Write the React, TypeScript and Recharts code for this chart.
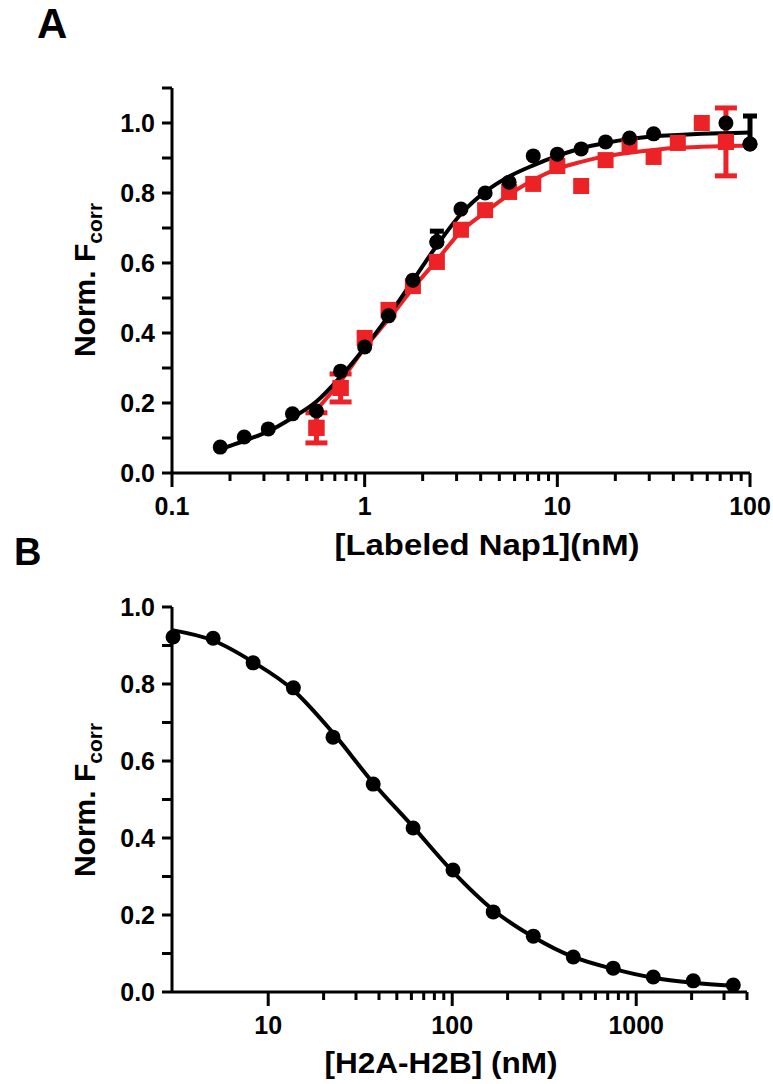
import React from 'react';
import { ComposedChart, Line, Scatter, XAxis, YAxis, ErrorBar } from 'recharts';

// ---- Panel A: [Labeled Nap1] titration ----
const nap1ConcBlack = [0.178, 0.237, 0.316, 0.422, 0.562, 0.75, 1.0, 1.33, 1.78, 2.37, 3.16, 4.22, 5.62, 7.5, 10, 13.3, 17.8, 23.7, 31.6, 75, 100];
const nap1NormBlack = [0.074, 0.103, 0.126, 0.169, 0.177, 0.291, 0.36, 0.449, 0.551, 0.66, 0.754, 0.8, 0.831, 0.906, 0.911, 0.926, 0.946, 0.957, 0.969, 1.0, 0.94];
const blackErrConc = [2.37, 100];
const blackErrNorm = [0.66, 0.94];
const blackErrUp = [0.031, 0.08];

const nap1ConcRed = [0.562, 0.75, 1.0, 1.33, 1.78, 2.37, 3.16, 4.22, 5.62, 7.5, 10, 13.3, 17.8, 23.7, 31.6, 42.2, 56.2, 75];
const nap1NormRed = [0.129, 0.243, 0.386, 0.466, 0.534, 0.603, 0.695, 0.751, 0.803, 0.826, 0.877, 0.82, 0.894, 0.937, 0.903, 0.943, 1.0, 0.946];
const redErrConc = [0.562, 0.75, 75];
const redErrNorm = [0.129, 0.243, 0.946];
const redErr = [0.043, 0.04, 0.097];

const fitConcBlack = [0.178, 0.237, 0.316, 0.422, 0.562, 0.75, 1.0, 1.33, 1.78, 2.37, 3.16, 4.22, 5.62, 7.5, 10, 13.3, 17.8, 23.7, 31.6, 42.2, 56.2, 75, 100];
const fitNormBlack = [0.068, 0.092, 0.119, 0.158, 0.204, 0.275, 0.358, 0.449, 0.55, 0.65, 0.74, 0.803, 0.847, 0.879, 0.906, 0.928, 0.943, 0.954, 0.962, 0.966, 0.969, 0.971, 0.973];
const fitConcRed = [0.562, 0.75, 1.0, 1.33, 1.78, 2.37, 3.16, 4.22, 5.62, 7.5, 10, 13.3, 17.8, 23.7, 31.6, 42.2, 56.2, 75, 100];
const fitNormRed = [0.18, 0.262, 0.357, 0.439, 0.528, 0.608, 0.69, 0.745, 0.795, 0.837, 0.869, 0.889, 0.905, 0.915, 0.923, 0.929, 0.932, 0.934, 0.936];

const xTicksA = [0.1, 0.2, 0.3, 0.4, 0.5, 0.6, 0.7, 0.8, 0.9, 1, 2, 3, 4, 5, 6, 7, 8, 9, 10, 20, 30, 40, 50, 60, 70, 80, 90, 100];
const xLabelsA = [0.1, 1, 10, 100];
const yTicksA = [0, 0.1, 0.2, 0.3, 0.4, 0.5, 0.6, 0.7, 0.8, 0.9, 1.0, 1.1];
const yLabelsA = [0, 0.2, 0.4, 0.6, 0.8, 1.0];

// ---- Panel B: [H2A-H2B] competition ----
const h2abConc = [3.04, 5.02, 8.28, 13.7, 22.5, 37.2, 61.3, 101, 167, 276, 455, 750, 1238, 2042, 3370];
const h2abNorm = [0.922, 0.919, 0.855, 0.79, 0.662, 0.54, 0.426, 0.317, 0.208, 0.145, 0.091, 0.062, 0.039, 0.029, 0.018];
const h2abFitConc = [3.0, 5.02, 8.28, 13.7, 22.5, 37.2, 61.3, 101, 167, 276, 455, 750, 1238, 2042, 3370];
const h2abFitNorm = [0.94, 0.913, 0.857, 0.784, 0.673, 0.543, 0.429, 0.312, 0.213, 0.143, 0.091, 0.06, 0.037, 0.024, 0.016];

const xTicksB = [10, 20, 30, 40, 50, 60, 70, 80, 90, 100, 200, 300, 400, 500, 600, 700, 800, 900, 1000, 2000, 3000, 4000];
const xLabelsB = [10, 100, 1000];
const yTicksB = [0, 0.1, 0.2, 0.3, 0.4, 0.5, 0.6, 0.7, 0.8, 0.9, 1.0];
const yLabelsB = [0, 0.2, 0.4, 0.6, 0.8, 1.0];

const RED = '#ed2226';
const FONT = '"Liberation Sans", Arial, Helvetica, sans-serif';

const pts = (xs: number[], ys: number[]) => xs.map((x, i) => ({ x, y: ys[i] }));
// x-axis tick marks sit at y = 0 and go through the chart's own scales
const tickPts = (ticks: number[], labels: number[]) => ticks.map((x) => ({ x, y: 0, major: labels.includes(x) }));

const blackPts = pts(nap1ConcBlack, nap1NormBlack);
const blackErrPts = blackErrConc.map((x, i) => ({ x, y: blackErrNorm[i], err: [0, blackErrUp[i]] }));
const redPts = pts(nap1ConcRed, nap1NormRed);
const redErrPts = redErrConc.map((x, i) => ({ x, y: redErrNorm[i], err: redErr[i] }));
const blackFit = pts(fitConcBlack, fitNormBlack);
const redFit = pts(fitConcRed, fitNormRed);
const h2abPts = pts(h2abConc, h2abNorm);
const h2abFit = pts(h2abFitConc, h2abFitNorm);
const tickMarksA = tickPts(xTicksA, xLabelsA);
const tickMarksB = tickPts(xTicksB, xLabelsB);

const Dot = (p: any) => <circle cx={p.cx} cy={p.cy} r={7.5} fill="#000" />;
const Square = (p: any) => <rect x={p.cx - 8} y={p.cy - 8} width={16} height={16} fill={RED} />;
const TickStub = (p: any) => (
  <rect x={p.cx - 1.5} y={p.cy} width={3} height={p.payload && p.payload.major ? 14 : 8} fill="#000" />
);

const tickText = { fontSize: 25, fontWeight: 700, fill: '#000', fontFamily: FONT };
const axisLine = { stroke: '#000', strokeWidth: 3 };
const yTickLine = { stroke: '#000', strokeWidth: 3 };
const logFmt = (labels: number[]) => (v: number) => (labels.includes(v) ? String(v) : '');
const linFmt = (labels: number[]) => (v: number) => (labels.includes(v) ? v.toFixed(1) : '');

const textStyle: React.CSSProperties = { position: 'absolute', overflow: 'visible' };

export default function App() {
  return (
    <div style={{ position: 'absolute', left: 0, top: 0, width: 773, height: 1084, background: '#fff' }}>
      <ComposedChart width={773} height={540} margin={{ top: 88, right: 23, bottom: 7, left: 92 }}>
        <XAxis
          type="number"
          dataKey="x"
          scale="log"
          domain={[0.1, 100]}
          ticks={xTicksA}
          interval={0}
          tickSize={14}
          tickMargin={10}
          height={60}
          axisLine={axisLine}
          tickLine={false}
          tick={tickText}
          tickFormatter={logFmt(xLabelsA)}
        />
        <YAxis
          type="number"
          dataKey="y"
          domain={[0, 1.1]}
          ticks={yTicksA}
          interval={0}
          tickSize={10}
          tickMargin={7}
          width={80}
          axisLine={axisLine}
          tickLine={yTickLine}
          tick={tickText}
          tickFormatter={linFmt(yLabelsA)}
        />
        <Scatter data={tickMarksA} dataKey="y" fill="#000" shape={TickStub} isAnimationActive={false} />
        <Line data={redFit} dataKey="y" type="monotone" stroke={RED} strokeWidth={4} dot={false} activeDot={false} isAnimationActive={false} />
        <Scatter data={redPts} dataKey="y" fill={RED} shape={Square} isAnimationActive={false} />
        <Scatter data={redErrPts} dataKey="y" fill={RED} shape={Square} isAnimationActive={false}>
          <ErrorBar dataKey="err" direction="y" width={11} strokeWidth={5} stroke={RED} />
        </Scatter>
        <Line data={blackFit} dataKey="y" type="monotone" stroke="#000" strokeWidth={4} dot={false} activeDot={false} isAnimationActive={false} />
        <Scatter data={blackErrPts} dataKey="y" fill="#000" shape={Dot} isAnimationActive={false}>
          <ErrorBar dataKey="err" direction="y" width={7} strokeWidth={5} stroke="#000" />
        </Scatter>
        <Scatter data={blackPts} dataKey="y" fill="#000" shape={Dot} isAnimationActive={false} />
      </ComposedChart>
      <ComposedChart width={773} height={544} margin={{ top: 67, right: 26, bottom: 32, left: 92 }}>
        <XAxis
          type="number"
          dataKey="x"
          scale="log"
          domain={[3, 4000]}
          ticks={xTicksB}
          interval={0}
          tickSize={14}
          tickMargin={10}
          height={60}
          axisLine={axisLine}
          tickLine={false}
          tick={tickText}
          tickFormatter={logFmt(xLabelsB)}
        />
        <YAxis
          type="number"
          dataKey="y"
          domain={[0, 1]}
          ticks={yTicksB}
          interval={0}
          tickSize={10}
          tickMargin={7}
          width={80}
          axisLine={axisLine}
          tickLine={yTickLine}
          tick={tickText}
          tickFormatter={linFmt(yLabelsB)}
        />
        <Scatter data={tickMarksB} dataKey="y" fill="#000" shape={TickStub} isAnimationActive={false} />
        <Line data={h2abFit} dataKey="y" type="monotone" stroke="#000" strokeWidth={4} dot={false} activeDot={false} isAnimationActive={false} />
        <Scatter data={h2abPts} dataKey="y" fill="#000" shape={Dot} isAnimationActive={false} />
      </ComposedChart>

      {/* panel letters and axis titles, each in its own small box away from the axes */}
      <svg width={80} height={50} style={{ ...textStyle, left: 0, top: 0 }}>
        <text x={37} y={38} fontSize={42} fontWeight="bold" fontFamily={FONT} fill="#000">A</text>
      </svg>
      <svg width={80} height={45} style={{ ...textStyle, left: 0, top: 530 }}>
        <text x={14} y={35} fontSize={38} fontWeight="bold" fontFamily={FONT} fill="#000">B</text>
      </svg>
      <svg width={773} height={36} style={{ ...textStyle, left: 0, top: 528 }}>
        <text x={487} y={27} fontSize={30} fontWeight="bold" fontFamily={FONT} fill="#000" textAnchor="middle" textLength={305} lengthAdjust="spacingAndGlyphs">
          [Labeled Nap1](nM)
        </text>
      </svg>
      <svg width={773} height={38} style={{ ...textStyle, left: 0, top: 1044 }}>
        <text x={441} y={29} fontSize={30} fontWeight="bold" fontFamily={FONT} fill="#000" textAnchor="middle" textLength={233} lengthAdjust="spacingAndGlyphs">
          [H2A-H2B] (nM)
        </text>
      </svg>
      <svg width={70} height={260} style={{ ...textStyle, left: 40, top: 150 }}>
        <text x={55} y={130} fontSize={30} fontWeight="bold" fontFamily={FONT} fill="#000" textAnchor="middle" transform="rotate(-90 55 130)">
          Norm. F<tspan fontSize={21} dy={7}>corr</tspan>
        </text>
      </svg>
      <svg width={70} height={260} style={{ ...textStyle, left: 40, top: 670 }}>
        <text x={55} y={130} fontSize={30} fontWeight="bold" fontFamily={FONT} fill="#000" textAnchor="middle" transform="rotate(-90 55 130)">
          Norm. F<tspan fontSize={21} dy={7}>corr</tspan>
        </text>
      </svg>
    </div>
  );
}
